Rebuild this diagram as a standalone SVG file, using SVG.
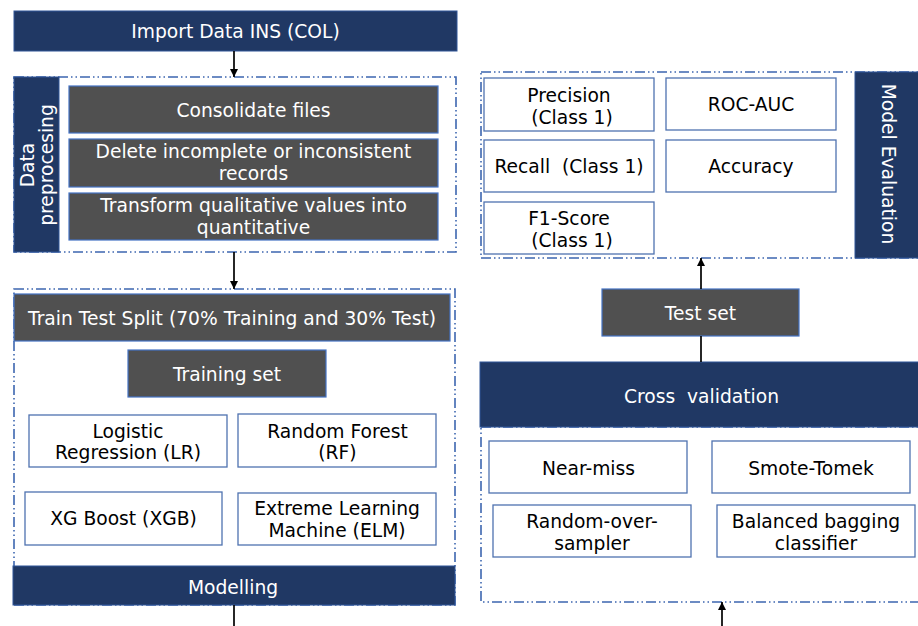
<svg xmlns="http://www.w3.org/2000/svg" width="918" height="626" viewBox="0 0 918 626">
<defs>
<style>
.navy{fill:#203864;stroke:#2F5597;stroke-width:1}
.gray{fill:#505050;stroke:#4472C4;stroke-width:1.2}
.box{fill:#ffffff;stroke:#4F72B0;stroke-width:1.3}
.dash{fill:none;stroke:#3D66B0;stroke-width:1.6;stroke-dasharray:10 3 1.5 3 1.5 3}
text{font-family:"DejaVu Sans","Liberation Sans",sans-serif;font-size:18.7px;text-anchor:middle;white-space:pre}
.w{fill:#ffffff}
.k{fill:#000000}
.conn{stroke:#000;stroke-width:1.7;fill:none}
</style>
<marker id="ah" viewBox="0 0 10 10" refX="10" refY="5" markerWidth="8" markerHeight="9" markerUnits="userSpaceOnUse" orient="auto">
<path d="M0,0 L10,5 L0,10 z" fill="#000"/>
</marker>
</defs>
<rect width="918" height="626" fill="#ffffff"/>

<g id="import">
<rect class="navy" x="14" y="11" width="443" height="40"/>
<text class="w" x="235.5" y="38">Import Data INS (COL)</text>
</g>

<g id="preprocessing">
<rect class="dash" x="14" y="77" width="442" height="175"/>
<rect class="navy" x="14" y="77" width="45" height="175"/>
<text class="w" transform="translate(0,165) rotate(-90)"><tspan x="0" y="34">Data</tspan><tspan x="0" y="53">preprocesing</tspan></text>
</g>
<g id="consolidate">
<rect class="gray" x="69" y="86" width="369" height="47"/>
<text class="w" x="253.5" y="117">Consolidate files</text>
</g>
<g id="delete">
<rect class="gray" x="69" y="139" width="369" height="48"/>
<text class="w" x="253.5" y="158">Delete incomplete or inconsistent</text>
<text class="w" x="253.5" y="180">records</text>
</g>
<g id="transform">
<rect class="gray" x="69" y="193" width="369" height="47"/>
<text class="w" x="253.5" y="212">Transform qualitative values into</text>
<text class="w" x="253.5" y="234">quantitative</text>
</g>

<g id="modelling">
<rect class="dash" x="14" y="289" width="441" height="316"/>
<rect class="navy" x="13" y="566" width="442" height="39"/>
<text class="w" x="233" y="594">Modelling</text>
</g>
<g id="split">
<rect class="gray" x="14" y="294" width="436" height="47"/>
<text class="w" x="232" y="325">Train Test Split (70% Training and 30% Test)</text>
</g>
<g id="training">
<rect class="gray" x="128" y="350" width="198" height="47"/>
<text class="w" x="227" y="381">Training set</text>
</g>
<g id="lr">
<rect class="box" x="29" y="415" width="198" height="52"/>
<text class="k" x="128" y="437.5">Logistic</text>
<text class="k" x="128" y="459">Regression (LR)</text>
</g>
<g id="rf">
<rect class="box" x="238" y="414" width="198" height="53"/>
<text class="k" x="337.5" y="437.5">Random Forest</text>
<text class="k" x="337.5" y="459">(RF)</text>
</g>
<g id="xgb">
<rect class="box" x="25" y="492" width="197" height="53"/>
<text class="k" x="123.5" y="525">XG Boost (XGB)</text>
</g>
<g id="elm">
<rect class="box" x="238" y="493" width="198" height="52"/>
<text class="k" x="337" y="514.5">Extreme Learning</text>
<text class="k" x="337" y="536.5">Machine (ELM)</text>
</g>

<g id="evaluation">
<rect class="dash" x="481" y="72" width="440" height="186"/>
<rect class="navy" x="855" y="72" width="66" height="186"/>
<text class="w" transform="translate(882,164) rotate(90)" x="0" y="0" font-size="17.7">Model Evaluation</text>
</g>
<g id="precision">
<rect class="box" x="484" y="78" width="170" height="53"/>
<text class="k" x="569" y="102">Precision</text>
<text class="k" x="569" y="124"> (Class 1)</text>
</g>
<g id="rocauc">
<rect class="box" x="666" y="78" width="170" height="52"/>
<text class="k" x="751" y="110.5">ROC-AUC</text>
</g>
<g id="recall">
<rect class="box" x="484" y="140" width="170" height="52"/>
<text class="k" x="569" y="173">Recall  (Class 1)</text>
</g>
<g id="accuracy">
<rect class="box" x="666" y="140" width="170" height="52"/>
<text class="k" x="751" y="173">Accuracy</text>
</g>
<g id="f1">
<rect class="box" x="484" y="202" width="170" height="52"/>
<text class="k" x="569" y="224.5">F1-Score</text>
<text class="k" x="569" y="246.5"> (Class 1)</text>
</g>

<g id="testset">
<rect class="gray" x="602" y="289" width="197" height="47"/>
<text class="w" x="700.5" y="320">Test set</text>
</g>

<g id="crossvalidation">
<rect class="dash" x="481" y="427" width="440" height="175"/>
<rect class="navy" x="480" y="362" width="441" height="65"/>
<text class="w" x="701.5" y="402.5">Cross  validation</text>
</g>
<g id="nearmiss">
<rect class="box" x="489" y="441" width="198" height="52"/>
<text class="k" x="588.5" y="474.5">Near-miss</text>
</g>
<g id="smotetomek">
<rect class="box" x="712" y="441" width="198" height="52"/>
<text class="k" x="811" y="474.5">Smote-Tomek</text>
</g>
<g id="randomover">
<rect class="box" x="493" y="505" width="198" height="52"/>
<text class="k" x="592" y="527.5">Random-over-</text>
<text class="k" x="592" y="549.5">sampler</text>
</g>
<g id="balanced">
<rect class="box" x="717" y="505" width="198" height="52"/>
<text class="k" x="816" y="527.5">Balanced bagging</text>
<text class="k" x="816" y="549.5">classifier</text>
</g>

<g id="connectors">
<line class="conn" x1="234" y1="51" x2="234" y2="77" marker-end="url(#ah)"/>
<line class="conn" x1="234" y1="252" x2="234" y2="289" marker-end="url(#ah)"/>
<line class="conn" x1="234" y1="605" x2="234" y2="626"/>
<line class="conn" x1="701" y1="289" x2="701" y2="258" marker-end="url(#ah)"/>
<line class="conn" x1="701" y1="336" x2="701" y2="362"/>
<line class="conn" x1="722" y1="626" x2="722" y2="602" marker-end="url(#ah)"/>
</g>
</svg>
